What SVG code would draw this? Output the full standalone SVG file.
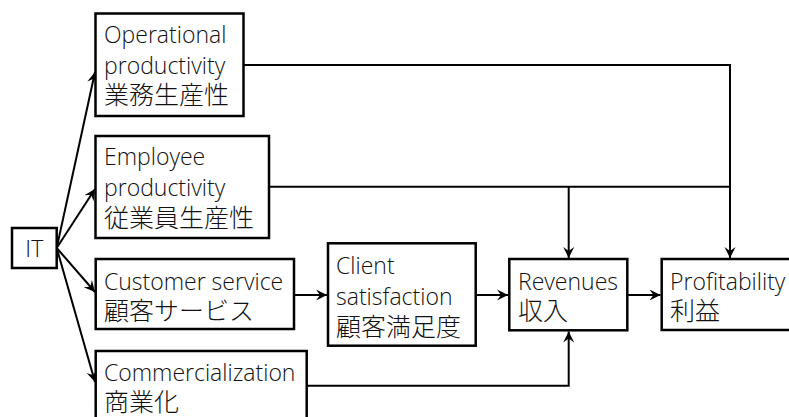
<svg xmlns="http://www.w3.org/2000/svg" width="789" height="417" viewBox="0 0 789 417">
<defs>
<marker id="ah" viewBox="0 0 12 12" refX="11" refY="6" markerWidth="12" markerHeight="12" markerUnits="userSpaceOnUse" orient="auto">
<path d="M0,0.5 L11,6 L0,11.5 L4,6 Z" fill="#000"/>
</marker>
<style>
.box{fill:#fff;stroke:#000;stroke-width:2.5}
.t{font-family:"Open Sans","Noto Sans CJK JP",sans-serif;font-size:23px;font-weight:300;fill:#111}
.j{font-family:"Noto Sans CJK JP",sans-serif;font-size:25px;font-weight:300;fill:#111}
.c{fill:none;stroke:#000;stroke-width:2}
.a{marker-end:url(#ah)}
</style>
</defs>
<rect width="789" height="417" fill="#fff"/>
<g id="connectors">
<path class="c a" d="M56.7,248 L95,72"/>
<path class="c a" d="M56.7,248 L95,189"/>
<path class="c a" d="M56.7,248 L95,292"/>
<path class="c a" d="M56.7,248 L95,382"/>
<path class="c a" d="M294,295 L327,295"/>
<path class="c a" d="M475.7,295 L508,295"/>
<path class="c a" d="M627.3,295 L660.5,295"/>
<path class="c a" d="M243.5,65 L730,65 L730,258"/>
<path class="c" d="M269,186.7 L730,186.7"/>
<path class="c a" d="M568.7,186.7 L568.7,258"/>
<path class="c a" d="M306.7,385.7 L568.7,385.7 L568.7,331.5"/>
</g>
<g id="it">
<rect class="box" x="12" y="228" width="44.7" height="40"/>
<text class="t" x="34.3" y="256.5" text-anchor="middle">IT</text>
</g>
<g id="operational">
<rect class="box" x="95.5" y="13.5" width="148" height="102.5"/>
<text class="t" x="104" y="42.5">Operational</text>
<text class="t" x="104" y="73.5">productivity</text>
<text class="j" x="104" y="104">業務生産性</text>
</g>
<g id="employee">
<rect class="box" x="95.5" y="136" width="173.5" height="102"/>
<text class="t" x="104" y="165">Employee</text>
<text class="t" x="104" y="196">productivity</text>
<text class="j" x="104" y="226.5">従業員生産性</text>
</g>
<g id="customer">
<rect class="box" x="95.7" y="259" width="198.3" height="70"/>
<text class="t" x="104" y="289.5">Customer service</text>
<text class="j" x="104" y="320">顧客サービス</text>
</g>
<g id="commercialization">
<rect class="box" x="95.7" y="351" width="211" height="80"/>
<text class="t" x="104" y="381">Commercialization</text>
<text class="j" x="104" y="411">商業化</text>
</g>
<g id="client">
<rect class="box" x="328" y="243.3" width="147.7" height="102.4"/>
<text class="t" x="336" y="274">Client</text>
<text class="t" x="336" y="305">satisfaction</text>
<text class="j" x="336" y="335.5">顧客満足度</text>
</g>
<g id="revenues">
<rect class="box" x="509.3" y="259" width="118" height="71.3"/>
<text class="t" x="518" y="289.5">Revenues</text>
<text class="j" x="518" y="320">収入</text>
</g>
<g id="profitability">
<rect class="box" x="661.7" y="259" width="150" height="71"/>
<text class="t" x="670" y="289.5">Profitability</text>
<text class="j" x="670" y="320">利益</text>
</g>
</svg>
